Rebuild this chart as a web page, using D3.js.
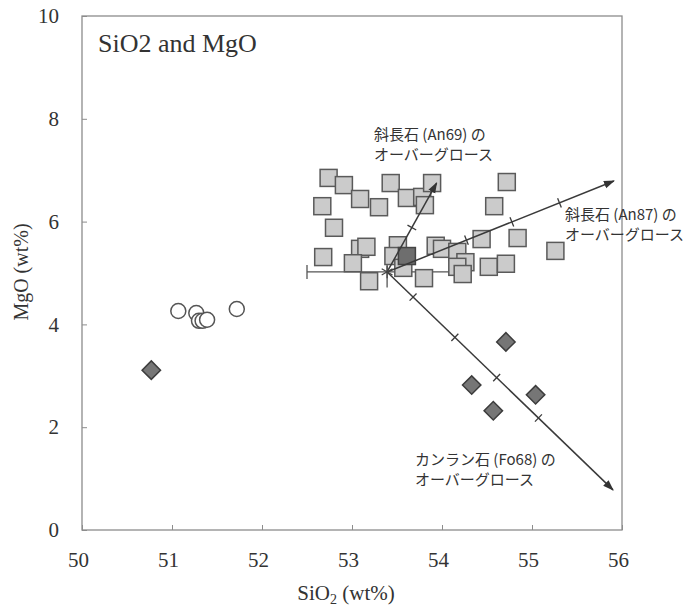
<!DOCTYPE html>
<html>
<head>
<meta charset="utf-8">
<script src="https://cdn.jsdelivr.net/npm/d3@7"></script>
<style>
  body { margin: 0; background: #fff; }
  svg text.tk { font-family: "Liberation Serif", serif !important; }
</style>
</head>
<body>
<div class="chart"></div>
<script>
var svgWidth = 689;
var svgHeight = 609;

var margin = { top: 16, right: 67, bottom: 79, left: 82 };
var width = 540;
var height = 514;

// SiO2 / MgO (wt%)
var squareSiO2 = [52.74, 52.91, 53.09, 52.67, 53.30, 53.43, 53.61, 53.78, 53.89, 53.81, 54.72, 54.58,
  52.80, 52.68, 53.09, 53.16, 53.01, 53.19, 53.51, 53.46, 53.57, 53.80, 53.93, 54.00, 54.17, 54.26,
  54.17, 54.23, 54.44, 54.52, 54.71, 54.84, 55.26];
var squareMgO = [6.85, 6.71, 6.44, 6.30, 6.28, 6.75, 6.46, 6.48, 6.75, 6.32, 6.77, 6.30,
  5.88, 5.31, 5.47, 5.51, 5.19, 4.84, 5.54, 5.33, 5.10, 4.90, 5.53, 5.47, 5.41, 5.21,
  5.12, 4.98, 5.66, 5.12, 5.18, 5.68, 5.43];

var darkSquareSiO2 = [53.61];
var darkSquareMgO = [5.33];

var circleSiO2 = [51.07, 51.27, 51.30, 51.34, 51.39, 51.72];
var circleMgO = [4.26, 4.22, 4.07, 4.07, 4.09, 4.30];

var diamondSiO2 = [50.77, 54.71, 54.33, 55.04, 54.57];
var diamondMgO = [3.11, 3.66, 2.82, 2.63, 2.32];

// starting composition with its spread
var originSiO2 = 53.39;
var originMgO = 5.02;
var originErrSiO2 = 0.89;
var originErrMgO = 0.3;

// overgrowth vectors
var arrowNames = ["An69", "An87", "Fo68"];
var arrowEndSiO2 = [53.94, 55.91, 55.90];
var arrowEndMgO = [6.75, 6.79, 0.78];
var arrowTicks = [[0.5], [0.35, 0.55, 0.76], [0.115, 0.3, 0.485, 0.67]];

var xTicks = [50, 51, 52, 53, 54, 55, 56];
var yTicks = [0, 2, 4, 6, 8, 10];

var serif = "Liberation Serif";

var svg = d3.select(".chart")
  .append("svg")
  .attr("width", svgWidth)
  .attr("height", svgHeight)
  .style("font-family", serif);

svg.append("defs").append("marker")
  .attr("id", "head")
  .attr("viewBox", "0 0 10 10")
  .attr("refX", 9)
  .attr("refY", 5)
  .attr("markerWidth", 11)
  .attr("markerHeight", 11)
  .attr("markerUnits", "userSpaceOnUse")
  .attr("orient", "auto")
  .append("path")
  .attr("d", "M0,1.5L10,5L0,8.5Z")
  .attr("fill", "#333");

var chartGroup = svg.append("g")
  .attr("transform", `translate(${margin.left}, ${margin.top})`);

var x = d3.scaleLinear().domain([50, 56]).range([0, width]);
var y = d3.scaleLinear().domain([0, 10]).range([height, 0]);

// frame
chartGroup.append("rect")
  .attr("x", x(50))
  .attr("y", y(10))
  .attr("width", x(56) - x(50))
  .attr("height", y(0) - y(10))
  .attr("fill", "none")
  .attr("stroke", "#8c8c8c")
  .attr("stroke-width", 1.3);

var bottomAxis = d3.axisBottom(x)
  .tickValues(xTicks)
  .tickFormat(d3.format("d"))
  .tickSizeInner(-5)
  .tickSizeOuter(0)
  .tickPadding(22);

var leftAxis = d3.axisLeft(y)
  .tickValues(yTicks)
  .tickFormat(d3.format("d"))
  .tickSizeInner(-5)
  .tickSizeOuter(0)
  .tickPadding(23);

var xAxis = chartGroup.append("g")
  .attr("transform", `translate(0, ${height})`)
  .call(bottomAxis);

var yAxis = chartGroup.append("g")
  .call(leftAxis);

[xAxis, yAxis].forEach(function(ax) {
  ax.attr("font-family", serif).attr("font-size", 21);
  ax.select(".domain").remove();
  ax.selectAll("line").attr("stroke", "#8c8c8c");
  ax.selectAll("text")
    .attr("class", "tk")
    .attr("font-family", serif)
    .attr("font-size", 21)
    .attr("fill", "#333");
});
xAxis.selectAll("text").attr("dx", -4);

chartGroup.append("text")
  .attr("x", 16)
  .attr("y", 36)
  .style("font-size", "26px")
  .attr("fill", "#333")
  .text("SiO2 and MgO");

// error bars of the starting point
chartGroup.append("line")
  .attr("x1", x(originSiO2 - originErrSiO2))
  .attr("x2", x(originSiO2 + originErrSiO2))
  .attr("y1", y(originMgO))
  .attr("y2", y(originMgO))
  .attr("stroke", "#555")
  .attr("stroke-width", 1.3);

[originSiO2 - originErrSiO2, originSiO2 + originErrSiO2].forEach(function(v) {
  chartGroup.append("line")
    .attr("x1", x(v))
    .attr("x2", x(v))
    .attr("y1", y(originMgO) - 7)
    .attr("y2", y(originMgO) + 7)
    .attr("stroke", "#555")
    .attr("stroke-width", 1.3);
});

chartGroup.append("line")
  .attr("x1", x(originSiO2))
  .attr("x2", x(originSiO2))
  .attr("y1", y(originMgO + originErrMgO))
  .attr("y2", y(originMgO - originErrMgO))
  .attr("stroke", "#555")
  .attr("stroke-width", 1.3);

var squares = d3.zip(squareSiO2, squareMgO);
var darkSquares = d3.zip(darkSquareSiO2, darkSquareMgO);
var circles = d3.zip(circleSiO2, circleMgO);
var diamonds = d3.zip(diamondSiO2, diamondMgO);

chartGroup.selectAll(".sq")
  .data(squares)
  .enter()
  .append("rect")
  .attr("class", "sq")
  .attr("x", d => x(d[0]) - 8.5)
  .attr("y", d => y(d[1]) - 8.5)
  .attr("width", 17)
  .attr("height", 17)
  .attr("fill", "#cbcbcb")
  .attr("stroke", "#5a5a5a")
  .attr("stroke-width", 1.5);

chartGroup.selectAll(".dsq")
  .data(darkSquares)
  .enter()
  .append("rect")
  .attr("class", "dsq")
  .attr("x", d => x(d[0]) - 8.5)
  .attr("y", d => y(d[1]) - 8.5)
  .attr("width", 17)
  .attr("height", 17)
  .attr("fill", "#6e6e6e")
  .attr("stroke", "#444")
  .attr("stroke-width", 1.5);

chartGroup.selectAll(".circ")
  .data(circles)
  .enter()
  .append("circle")
  .attr("class", "circ")
  .attr("cx", d => x(d[0]))
  .attr("cy", d => y(d[1]))
  .attr("r", 7.5)
  .attr("fill", "#fff")
  .attr("stroke", "#555")
  .attr("stroke-width", 1.5);

chartGroup.selectAll(".dia")
  .data(diamonds)
  .enter()
  .append("path")
  .attr("class", "dia")
  .attr("d", d3.symbol().type(d3.symbolSquare).size(170))
  .attr("transform", d => `translate(${x(d[0])}, ${y(d[1])}) rotate(45)`)
  .attr("fill", "#767676")
  .attr("stroke", "#3c3c3c")
  .attr("stroke-width", 1.5);

// overgrowth arrows
arrowNames.forEach(function(name, i) {
  var x0 = x(originSiO2), y0 = y(originMgO);
  var x1 = x(arrowEndSiO2[i]), y1 = y(arrowEndMgO[i]);
  chartGroup.append("line")
    .attr("x1", x0)
    .attr("y1", y0)
    .attr("x2", x1)
    .attr("y2", y1)
    .attr("stroke", "#3a3a3a")
    .attr("stroke-width", 1.5)
    .attr("marker-end", "url(#head)");

  var len = Math.hypot(x1 - x0, y1 - y0);
  var nx = -(y1 - y0) / len, ny = (x1 - x0) / len;
  arrowTicks[i].forEach(function(f) {
    var px = x0 + f * (x1 - x0), py = y0 + f * (y1 - y0);
    chartGroup.append("line")
      .attr("x1", px - nx * 5)
      .attr("y1", py - ny * 5)
      .attr("x2", px + nx * 5)
      .attr("y2", py + ny * 5)
      .attr("stroke", "#3a3a3a")
      .attr("stroke-width", 1.3);
  });
});

chartGroup.append("path")
  .attr("d", d3.symbol().type(d3.symbolAsterisk).size(110))
  .attr("transform", `translate(${x(originSiO2)}, ${y(originMgO)})`)
  .attr("fill", "none")
  .attr("stroke", "#444")
  .attr("stroke-width", 1.2);

// annotations
var notes = [
  { line1: "斜長石 (An69) の", px: 292, py: 124 },
  { line1: "斜長石 (An87) の", px: 483, py: 204 },
  { line1: "カンラン石 (Fo68) の", px: 333, py: 449 }
];

notes.forEach(function(n) {
  var t = chartGroup.append("text")
    .attr("x", n.px)
    .attr("y", n.py)
    .style("font-family", "'Noto Sans CJK JP', sans-serif")
    .style("font-size", "15px")
    .attr("fill", "#333");
  t.append("tspan").attr("x", n.px).text(n.line1);
  t.append("tspan").attr("x", n.px).attr("dy", 20).text("オーバーグロース");
});

// axis titles
var xLabel = svg.append("text")
  .attr("x", margin.left + width / 2 - 6)
  .attr("y", 600)
  .attr("text-anchor", "middle")
  .style("font-size", "21px")
  .attr("fill", "#333");
xLabel.append("tspan").text("SiO");
xLabel.append("tspan").attr("dy", 4).style("font-size", "14px").text("2");
xLabel.append("tspan").attr("dy", -4).text(" (wt%)");

svg.append("text")
  .attr("transform", "translate(28, 272) rotate(-90)")
  .attr("text-anchor", "middle")
  .style("font-size", "20px")
  .attr("fill", "#333")
  .text("MgO (wt%)");
</script>
</body>
</html>
